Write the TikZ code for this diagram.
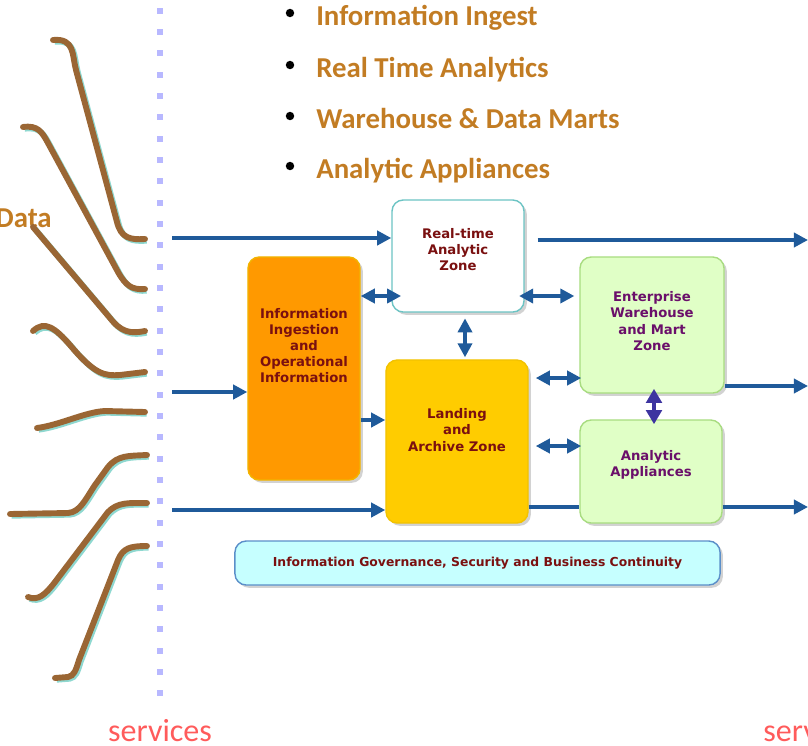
\documentclass[tikz,border=0pt]{standalone}
\usepackage{fontspec}
\setmainfont{Carlito}
\newfontfamily\zonefont{DejaVu Sans}
\usetikzlibrary{arrows.meta,calc,shadows}

\definecolor{flowblue}{HTML}{1F5A9A}
\definecolor{linkpurple}{HTML}{3D34A0}
\definecolor{ropebrown}{HTML}{9A6634}
\definecolor{ropeshadow}{HTML}{8ED8D0}
\definecolor{dotlilac}{HTML}{B8B8FF}
\definecolor{headorange}{HTML}{C27C23}
\definecolor{svcred}{HTML}{FF5B5B}
\definecolor{zonered}{HTML}{7A1010}
\definecolor{zonepurple}{HTML}{6A0F6A}
\definecolor{rtteal}{HTML}{6CC4C4}
\definecolor{ingorange}{HTML}{FF9900}
\definecolor{ingedge}{HTML}{F2B400}
\definecolor{landyellow}{HTML}{FFCC00}
\definecolor{landedge}{HTML}{F2C200}
\definecolor{ewmgreen}{HTML}{E0FFC6}
\definecolor{ewmedge}{HTML}{A8DC80}
\definecolor{govcyan}{HTML}{C6FFFF}
\definecolor{govedge}{HTML}{5B8FC9}

\tikzset{
  zone/.style={draw, line width=1pt, rounded corners=8pt, inner sep=0pt,
    drop shadow={shadow xshift=2pt,shadow yshift=-2pt,fill=black!35,opacity=0.5}},
  zonetext/.style={font=\zonefont\bfseries\fontsize{9.4}{11.5}\selectfont,
    align=center, text=zonered, inner sep=0pt},
  flowline/.style={draw=flowblue, line width=2.8pt},
  flow/.style={flowline, -{Triangle[length=10pt,width=10pt]}},
  biflow/.style={flowline, {Triangle[length=10pt,width=10pt]}-{Triangle[length=10pt,width=10pt]}},
  biflowp/.style={draw=linkpurple, line width=3pt,
    {Triangle[length=10pt,width=11pt]}-{Triangle[length=10pt,width=11pt]}},
  rope/.style={draw=ropebrown, line width=4.2pt, line cap=round,
    preaction={draw=ropeshadow, line width=4.2pt,
      transform canvas={shift={(1.2pt,-1.2pt)}}}},
  bullettext/.style={anchor=base west, inner sep=0pt, text=headorange,
    font=\bfseries\fontsize{20.5}{24}\selectfont},
  svc/.style={inner sep=0pt, text=svcred, font=\fontsize{22.8}{26}\selectfont}
}

\begin{document}
\begin{tikzpicture}[x=0.025cm,y=-0.025cm]
  \useasboundingbox (0,0) rectangle (808,745);
  \clip (0,0) rectangle (808,745);

  % dotted separator
  \foreach \i in {0,...,32}
    \fill[dotlilac] (157,7.7+21.33*\i) rectangle +(6,6);

  % heading list
  \foreach \y/\t [count=\i] in {25/Information Ingest,77/Real Time Analytics,
      128/Warehouse \& Data Marts,178/Analytic Appliances} {
    \fill (290,\y-12) circle (3pt);
    \node[bullettext] (head\i) at (316,\y) {\t};
  }
  \node[bullettext, anchor=base east] (data) at (52,227) {Data};

  % incoming sources
  \draw[rope] (53,40) .. controls (75,38) and (72,55) .. (76,70) -- (117,222)
    .. controls (121,238) and (130,240) .. (145,239);
  \draw[rope] (23,127) .. controls (38,125) and (42,132) .. (48,143) -- (118,272)
    .. controls (126,286) and (132,290) .. (145,289);
  \draw[rope] (33,227) -- (110,318) .. controls (121,332) and (130,334) .. (145,331);
  \draw[rope] (33,331) .. controls (45,320) and (55,328) .. (70,345)
    .. controls (95,375) and (105,376) .. (120,375) -- (145,372);
  \draw[rope] (37,428) .. controls (60,425) and (85,412) .. (105,411) -- (145,412);
  \draw[rope] (10,514) -- (68,513) .. controls (80,512) and (85,500) .. (95,485)
    -- (108,467) .. controls (118,455) and (128,456) .. (147,455);
  \draw[rope] (28,597) .. controls (38,601) and (45,595) .. (55,582) -- (108,512)
    .. controls (118,502) and (128,503) .. (147,503);
  \draw[rope] (55,678) -- (68,677) .. controls (74,676) and (76,670) .. (79,660)
    -- (118,560) .. controls (123,548) and (130,546) .. (147,546);

  % zones
  \node[zone, fill=white, draw=rtteal, minimum width=3.3cm, minimum height=2.8cm] (rt) at (458,256) {};
  \node[zonetext] (rttext) at (458,249.5) {Real-time\\Analytic\\Zone};
  \node[zone, fill=ingorange, draw=ingedge, minimum width=2.8cm, minimum height=5.575cm] (ing) at (304,368.5) {};
  \node[zonetext] (ingtext) at (304,345.5) {Information\\Ingestion\\and\\Operational\\Information};
  \node[zone, fill=landyellow, draw=landedge, minimum width=3.55cm, minimum height=4.075cm] (land) at (457,441.5) {};
  \node[zonetext] (landtext) at (457,430) {Landing\\and\\Archive Zone};
  \node[zone, fill=ewmgreen, draw=ewmedge, minimum width=3.6cm, minimum height=3.4cm] (ewm) at (652,325) {};
  \node[zonetext, text=zonepurple] (ewmtext) at (652,321) {Enterprise\\Warehouse\\and Mart\\Zone};
  \node[zone, fill=ewmgreen, draw=ewmedge, minimum width=3.55cm, minimum height=2.575cm] (aa) at (651,471.5) {};
  \node[zonetext, text=zonepurple] (aatext) at (651,465) {Analytic\\Appliances};
  \node[zone, fill=govcyan, draw=govedge, minimum width=12.125cm, minimum height=1.1cm] (gov) at (477.5,563) {};
  \node[zonetext, font=\zonefont\bfseries\fontsize{8.8}{10}\selectfont] (govtext) at (477.5,563)
    {Information Governance, Security and Business Continuity};

  % flow rows
  \coordinate (in1) at (172,238);
  \coordinate (in2) at (172,392);
  \coordinate (in3) at (172,510);
  \coordinate (out1) at (808,240);
  \coordinate (out2) at (808,386);
  \coordinate (out3) at (808,507);
  \coordinate (r296) at (0,296);
  \coordinate (r378) at (0,378);
  \coordinate (r420) at (0,420);
  \coordinate (r446) at (0,446);
  \coordinate (c465) at (465,0);
  \coordinate (c654) at (654,0);

  \draw[flow] (in1) -- (rt.west |- in1);
  \draw[flow] ($(rt.east |- out1)+(13,0)$) -- (out1);
  \draw[flow] (in2) -- (ing.west |- in2);
  \draw[flow] (ing.east |- r420) -- (land.west |- r420);
  \draw[flow] (in3) -- (land.west |- in3);
  \draw[flowline] (land.east |- out3) -- (aa.west |- out3);
  \draw[flow] (aa.east |- out3) -- (out3);
  \draw[flow] (ewm.east |- out2) -- (out2);

  \draw[biflow, shorten >=-7pt] (ing.east |- r296) -- (rt.west |- r296);
  \draw[biflow, shorten <=4pt, shorten >=1.4pt] (rt.south -| c465) -- (land.north -| c465);
  \draw[biflow, shorten <=-4pt, shorten >=3.5pt] (rt.east |- r296) -- (ewm.west |- r296);
  \draw[biflow, shorten <=5pt, shorten >=-1.4pt] (land.east |- r378) -- (ewm.west |- r378);
  \draw[biflow, shorten <=5pt, shorten >=-1.4pt] (land.east |- r446) -- (aa.west |- r446);
  \draw[biflowp, shorten <=-3.5pt, shorten >=-3.5pt] (ewm.south -| c654) -- (aa.north -| c654);

  % bottom labels
  \node[svc, anchor=base] (svcleft) at (160,741) {services};
  \node[svc, anchor=base west] (svcright) at (763,741) {services};
\end{tikzpicture}
\end{document}
